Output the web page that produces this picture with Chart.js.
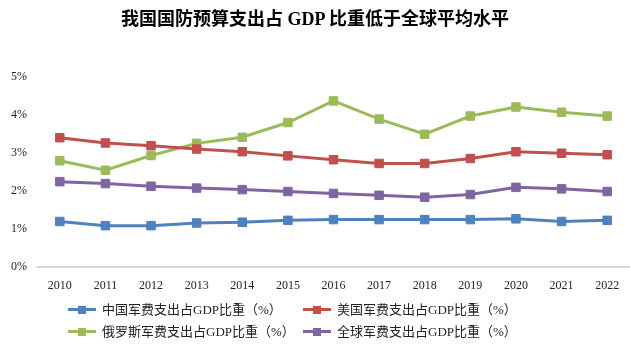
<!DOCTYPE html>
<html>
<head>
<meta charset="utf-8">
<script src="https://cdn.jsdelivr.net/npm/chart.js@4"></script>
<style>
  html, body { margin: 0; padding: 0; background: #fff; overflow: hidden; }
  #wrap { position: relative; width: 630px; height: 349px; overflow: hidden; }
  #c { position: absolute; left: 0; top: 0; }
  #title {
    position: absolute; left: 0; top: 4px; width: 630px; text-align: center;
    font: bold 18px "Liberation Serif", "Noto Sans CJK SC", serif; color: #000;
  }
  .leg {
    position: absolute; font: 13px "Liberation Serif", "Noto Sans CJK SC", serif;
    color: #222; white-space: nowrap; line-height: 16px;
  }
  .leg .mk { display: inline-block; position: relative; width: 28px; height: 16px; vertical-align: top; margin-right: 6px; }
  .leg .mk .ln { position: absolute; left: 0; top: 6px; width: 28px; height: 3px; }
  .leg .mk .sq { position: absolute; left: 10px; top: 3.5px; width: 8px; height: 8px; }
</style>
</head>
<body>
<div id="wrap">
  <canvas id="c" width="637" height="349"></canvas>
  <div id="title">我国国防预算支出占 GDP 比重低于全球平均水平</div>
  <div id="legend"></div>
</div>
<script>
const years = ["2010", "2011", "2012", "2013", "2014", "2015", "2016", "2017", "2018", "2019", "2020", "2021", "2022"];
const chinaShare = [1.19, 1.08, 1.08, 1.15, 1.17, 1.22, 1.24, 1.24, 1.24, 1.24, 1.26, 1.19, 1.22];
const usShare = [3.40, 3.26, 3.19, 3.10, 3.03, 2.92, 2.82, 2.72, 2.72, 2.85, 3.03, 2.99, 2.95];
const russiaShare = [2.79, 2.54, 2.93, 3.25, 3.41, 3.80, 4.37, 3.89, 3.49, 3.97, 4.21, 4.07, 3.97];
const worldShare = [2.24, 2.19, 2.12, 2.07, 2.03, 1.98, 1.93, 1.88, 1.83, 1.90, 2.09, 2.05, 1.98];
const seriesNames = ["中国军费支出占GDP比重（%）", "美国军费支出占GDP比重（%）", "俄罗斯军费支出占GDP比重（%）", "全球军费支出占GDP比重（%）"];
const seriesColors = ["#4F81BD", "#C0504D", "#9BBB59", "#8064A2"];

function makeSet(i, values) {
  return {
    label: seriesNames[i],
    data: values,
    borderColor: seriesColors[i],
    backgroundColor: seriesColors[i],
    borderWidth: 3,
    pointStyle: "rect",
    pointRadius: 6,
    pointBorderWidth: 1,
    tension: 0
  };
}

const datasets = [
  makeSet(0, chinaShare),
  makeSet(1, usShare),
  makeSet(2, russiaShare),
  makeSet(3, worldShare)
];

new Chart(document.getElementById("c"), {
  type: "line",
  data: { labels: years, datasets: datasets },
  options: {
    responsive: false,
    animation: false,
    layout: { padding: { top: 77, bottom: 44, left: 1, right: 1 } },
    plugins: { legend: { display: false }, title: { display: false }, tooltip: { enabled: false } },
    scales: {
      x: {
        offset: true,
        grid: { display: false, drawTicks: false },
        border: { display: true, color: "#d9d9d9", width: 2 },
        ticks: { padding: 12, color: "#222", font: { family: "Liberation Serif", size: 12 } }
      },
      y: {
        min: 0, max: 5,
        grid: { display: false, drawTicks: false },
        border: { display: false },
        ticks: {
          stepSize: 1, padding: 10, color: "#222",
          font: { family: "Liberation Serif", size: 12 },
          callback: (v) => v + "%"
        }
      }
    }
  }
});

// legend in two columns like the excel original
const legendPos = [[68, 302], [303, 302], [68, 324], [303, 324]];
const legendBox = document.getElementById("legend");
seriesNames.forEach((name, i) => {
  const d = document.createElement("div");
  d.className = "leg";
  d.style.left = legendPos[i][0] + "px";
  d.style.top = legendPos[i][1] + "px";
  d.innerHTML = '<span class="mk"><span class="ln" style="background:' + seriesColors[i] +
    '"></span><span class="sq" style="background:' + seriesColors[i] + '"></span></span>' + name;
  legendBox.appendChild(d);
});
</script>
</body>
</html>
